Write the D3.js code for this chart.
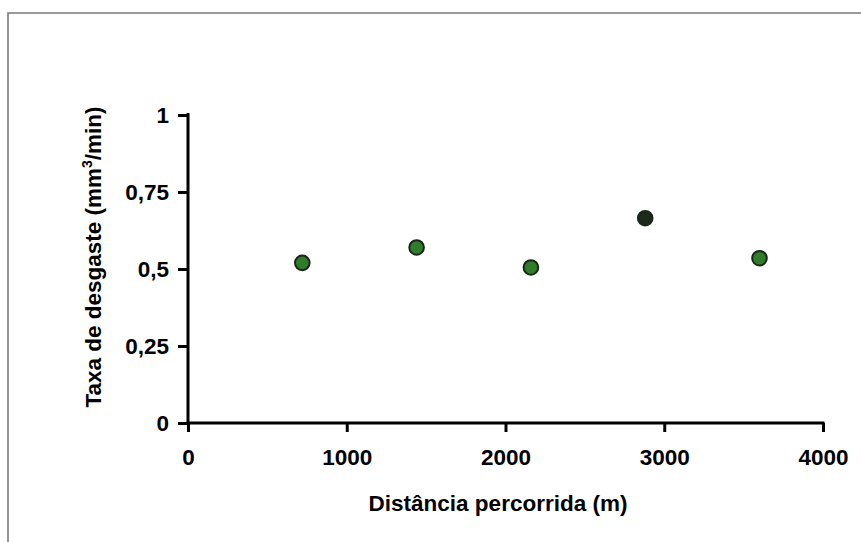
<!DOCTYPE html>
<html><head><meta charset="utf-8">
<script src="https://cdn.jsdelivr.net/npm/d3@7"></script>
<style>
body{margin:0;background:#fff;}
svg{display:block;}
text{font-family:"Liberation Sans",Arial,sans-serif;font-weight:bold;fill:#000;}
</style></head><body>
<svg id="c" width="861" height="542"></svg>
<script>
const distances = [720, 1440, 2160, 2880, 3600];
const wearRates = [0.52, 0.57, 0.505, 0.665, 0.535];
const xTicks = [0, 1000, 2000, 3000, 4000];
const yTicks = [0, 0.25, 0.5, 0.75, 1];
const yTickLabels = ["0", "0,25", "0,5", "0,75", "1"];
const xTitle = "Distância percorrida (m)";

const svg = d3.select("#c");
// frame
svg.append("path").attr("d","M8,542 V13 H861").attr("fill","none").attr("stroke","#7a7a7a").attr("stroke-width",1.6);

const x = d3.scaleLinear().domain([0,4000]).range([188,823]);
const y = d3.scaleLinear().domain([0,1]).range([423,115]);

const xAxis = svg.append("g").attr("transform","translate(0,423)")
  .call(d3.axisBottom(x).tickValues(xTicks).tickSize(9).tickSizeOuter(0).tickPadding(17).tickFormat(d3.format("d")));
const yAxis = svg.append("g").attr("transform","translate(188,0)")
  .call(d3.axisLeft(y).tickValues(yTicks).tickSize(10).tickSizeOuter(0).tickPadding(9).tickFormat((d,i)=>yTickLabels[i]));
[xAxis,yAxis].forEach(g=>{
  g.select(".domain").attr("stroke","#000").attr("stroke-width",3);
  g.selectAll(".tick line").attr("stroke","#000").attr("stroke-width",3);
  g.selectAll(".tick text").attr("font-size",22.5).attr("font-family","'Liberation Sans',Arial,sans-serif").attr("font-weight","bold").attr("fill","#000");
});
yAxis.select(".domain").attr("d","M0,113V424.5");
xAxis.select(".domain").attr("d","M186.5,0H824.5");

svg.append("text").attr("x",498).attr("y",511).attr("text-anchor","middle").attr("font-size",22.5).text(xTitle);
const yt = svg.append("text").attr("transform","translate(101,257) rotate(-90)").attr("text-anchor","middle").attr("font-size",22.5);
yt.append("tspan").text("Taxa de desgaste (mm");
yt.append("tspan").attr("font-size",14).attr("dy",-9).text("3");
yt.append("tspan").attr("dy",9).text("/min)");

svg.append("g").selectAll("circle").data(distances.map((d,i)=>({x:d,y:wearRates[i],i})))
  .join("circle")
  .attr("cx",d=>x(d.x)).attr("cy",d=>y(d.y)).attr("r",7.3)
  .attr("fill",d=>d.i===3?"#1b2a1b":"#2f7d2a")
  .attr("stroke","#1a261a").attr("stroke-width",2);
</script></body></html>
